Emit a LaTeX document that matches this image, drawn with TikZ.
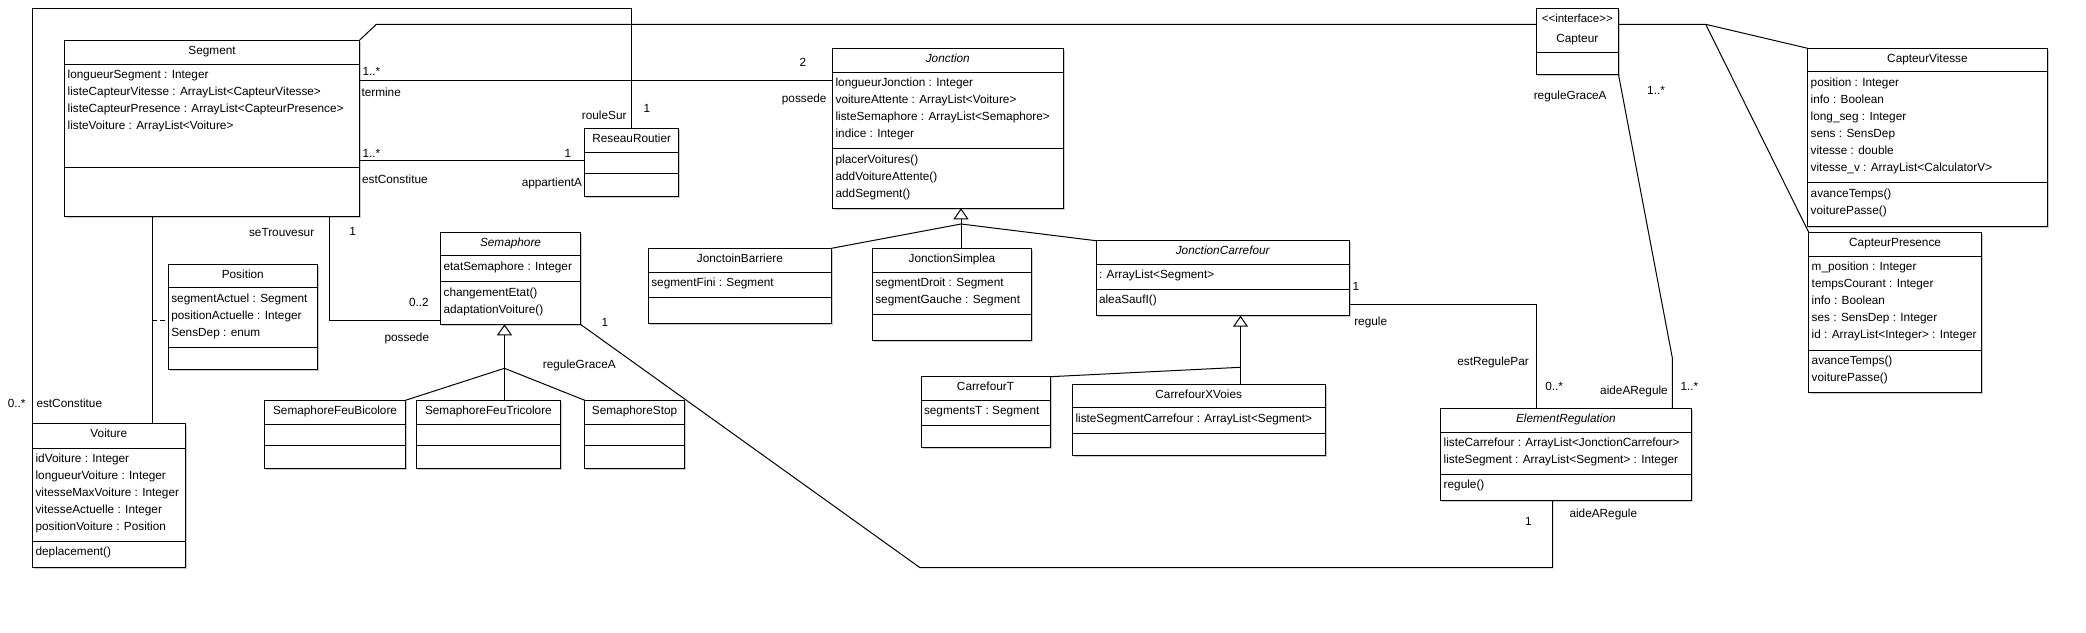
\documentclass[tikz,border=0pt]{standalone}
\usepackage{fontspec}
\setmainfont{Liberation Sans}
\usetikzlibrary{arrows.meta,shadows}

\newcommand{\umlfont}{\fontsize{11.8}{17}\selectfont}
\newcommand{\stereofont}{\fontsize{11.5}{13}\selectfont}

% class box: name, x, y, width, height, separators, title
\newcommand{\umlclass}[8]{%
  \node[classbox,minimum width=#4pt,minimum height=#5pt] (#1) at (#2,#3) {};
  \draw ([yshift=-#6pt]#1.north west) -- ([yshift=-#6pt]#1.north east);
  \draw ([yshift=-#7pt]#1.north west) -- ([yshift=-#7pt]#1.north east);
  \node[classtitle] (#1-title) at ([yshift=-14pt]#1.north) {#8};
}
% members under a separator: class, part, separator, list
\newcommand{\umlmembers}[4]{%
  \foreach \m [count=\i] in {#4}
    \node[member] (#1-#2-\i) at ([xshift=2.5pt,yshift={-(#3+17*\i-2.5)*1pt}]#1.north west) {\m};
}

\begin{document}
\begin{tikzpicture}[x=1pt,y=-1pt,line width=1pt]

  \tikzstyle{classbox}=[draw,rectangle,fill=white,inner sep=0pt,outer sep=0pt,anchor=north west,drop shadow={shadow xshift=1.5pt,shadow yshift=-1.5pt,opacity=0.5,fill=black!40}]
  \tikzstyle{classtitle}=[anchor=base,inner sep=0pt,font=\umlfont]
  \tikzstyle{member}=[anchor=base west,inner sep=0pt,font=\umlfont]
  \tikzstyle{assoc}=[draw,line width=1pt]
  \tikzstyle{generalise}=[draw,-{Triangle[open,length=11pt,width=15pt]}]
  \tikzstyle{lab}=[inner sep=0pt,font=\umlfont]

  \useasboundingbox (0,0) rectangle (2086,632);

  % classes
  \umlclass{Segment}{64.7}{40.3}{294.7}{175.7}{24}{127}{Segment}
  \umlmembers{Segment}{attr}{24}{longueurSegment : Integer, listeCapteurVitesse : ArrayList<CapteurVitesse>, listeCapteurPresence : ArrayList<CapteurPresence>, listeVoiture : ArrayList<Voiture>}

  \umlclass{ReseauRoutier}{584.8}{128.3}{93.8}{67.7}{24.4}{45}{ReseauRoutier}

  \umlclass{Jonction}{832.6}{48.3}{230.4}{160}{24}{100.4}{\itshape Jonction}
  \umlmembers{Jonction}{attr}{24}{longueurJonction : Integer, voitureAttente : ArrayList<Voiture>, listeSemaphore : ArrayList<Semaphore>, indice : Integer}
  \umlmembers{Jonction}{op}{100.4}{placerVoitures(), addVoitureAttente(), addSegment()}

  \node[classbox,minimum width=82.2pt,minimum height=65.7pt] (Capteur) at (1536.2,8.3) {};
  \draw ([yshift=-44pt]Capteur.north west) -- ([yshift=-44pt]Capteur.north east);
  \node[classtitle,font=\stereofont] (Capteur-stereo) at ([yshift=-14pt]Capteur.north) {<\kern0pt<interface>\kern0pt>};
  \node[classtitle] (Capteur-title) at ([yshift=-33.7pt]Capteur.north) {Capteur};

  \umlclass{CapteurVitesse}{1807.7}{48.3}{239.5}{177.7}{23.4}{134.4}{CapteurVitesse}
  \umlmembers{CapteurVitesse}{attr}{23.4}{position : Integer, info : Boolean, long\_seg : Integer, sens : SensDep, vitesse : double, vitesse\_v : ArrayList<CalculatorV>}
  \umlmembers{CapteurVitesse}{op}{134.4}{avanceTemps(), voiturePasse()}

  \umlclass{CapteurPresence}{1808.7}{232.3}{172.8}{160}{23.7}{117.7}{CapteurPresence}
  \umlmembers{CapteurPresence}{attr}{23.7}{m\_position : Integer, tempsCourant : Integer, info : Boolean, ses : SensDep : Integer, id : ArrayList<Integer> : Integer}
  \umlmembers{CapteurPresence}{op}{117.7}{avanceTemps(), voiturePasse()}

  \umlclass{Position}{168.3}{264.3}{149}{104.7}{23.4}{83.4}{Position}
  \umlmembers{Position}{attr}{23.4}{segmentActuel : Segment, positionActuelle : Integer, SensDep : enum}

  \umlclass{Semaphore}{440.6}{232.3}{139.8}{92}{23.4}{49.4}{\itshape Semaphore}
  \umlmembers{Semaphore}{attr}{23.4}{etatSemaphore : Integer}
  \umlmembers{Semaphore}{op}{49.4}{changementEtat(), adaptationVoiture()}

  \umlclass{Voiture}{32.6}{423.8}{152.5}{143.5}{24.5}{117.5}{Voiture}
  \umlmembers{Voiture}{attr}{24.5}{idVoiture : Integer, longueurVoiture : Integer, vitesseMaxVoiture : Integer, vitesseActuelle : Integer, positionVoiture : Position}
  \umlmembers{Voiture}{op}{117.5}{deplacement()}

  \umlclass{SemBicolore}{264.7}{400.3}{140.7}{68}{24}{45.4}{SemaphoreFeuBicolore}
  \umlclass{SemTricolore}{416.5}{400.3}{143.8}{68}{24}{45.4}{SemaphoreFeuTricolore}
  \umlclass{SemStop}{584.8}{400.3}{99.6}{68}{24}{45.4}{SemaphoreStop}

  \umlclass{JBarriere}{648.3}{248.3}{183.2}{75}{24}{49}{JonctoinBarriere}
  \umlmembers{JBarriere}{attr}{24}{segmentFini : Segment}

  \umlclass{JSimplea}{872.3}{248.3}{159.3}{91.7}{24}{66}{JonctionSimplea}
  \umlmembers{JSimplea}{attr}{24}{segmentDroit : Segment, segmentGauche : Segment}

  \umlclass{JCarrefour}{1096}{240.7}{253.4}{75}{23.3}{48.6}{\itshape JonctionCarrefour}
  \umlmembers{JCarrefour}{attr}{23.3}{: ArrayList<Segment>}
  \umlmembers{JCarrefour}{op}{48.6}{aleaSaufI()}

  \umlclass{CarrefourT}{921}{376.7}{129}{70.6}{23.3}{49}{CarrefourT}
  \umlmembers{CarrefourT}{attr}{23.3}{segmentsT : Segment}

  \umlclass{CarrefourXVoies}{1072.5}{384}{252.5}{71.7}{23.7}{49.3}{CarrefourXVoies}
  \umlmembers{CarrefourXVoies}{attr}{23.7}{listeSegmentCarrefour : ArrayList<Segment>}

  \umlclass{ElementRegulation}{1440.7}{408.3}{250.3}{91.7}{24}{66}{\itshape ElementRegulation}
  \umlmembers{ElementRegulation}{attr}{24}{listeCarrefour : ArrayList<JonctionCarrefour>, listeSegment : ArrayList<Segment> : Integer}
  \umlmembers{ElementRegulation}{op}{66}{regule()}

  % junctions
  \coordinate (semJoin) at (504.5,368.3);
  \coordinate (jonJoin) at (961,224);
  \coordinate (carJoin) at (1240.5,367.3);
  \coordinate (capJoin) at (1705.7,24.3);
  \coordinate (regBend) at (920,567.7);
  \coordinate (posJoin) at ([yshift=-55.7pt]Position.north west);

  % associations
  \draw[assoc] (Voiture.north west) |- ([yshift=120pt]ReseauRoutier.north) -- (ReseauRoutier.north);
  \draw[assoc] (Segment.north east) -- ++(17,-16) -- ([yshift=-16pt]Capteur.north west);
  \draw[assoc] ([yshift=-39.7pt]Segment.north east) -- ([yshift=-31.7pt]Jonction.north west);
  \draw[assoc] ([yshift=-120pt]Segment.north east) -- ([yshift=-32pt]ReseauRoutier.north west);
  \draw[assoc] ([xshift=87.6pt]Segment.south west) coordinate (segVoit) -- ([xshift=119.7pt]Voiture.north west);
  \draw[assoc,dash pattern=on 5pt off 3pt] (posJoin -| segVoit) -- (posJoin);
  \draw[assoc] ([xshift=264.6pt]Segment.south west) |- ([yshift=4.3pt]Semaphore.south west);
  \draw[assoc] ([yshift=-63.6pt]JCarrefour.north east) -| ([xshift=96pt]ElementRegulation.north west);
  \draw[assoc] (Capteur.south east) -- ++(54,284.3) -- ([xshift=231.6pt]ElementRegulation.north west);
  \draw[assoc] (Semaphore.south east) -- (regBend) -| ([xshift=112pt]ElementRegulation.south west);
  \draw[assoc] ([yshift=-16pt]Capteur.north east) -- (capJoin) -- (CapteurVitesse.north west);
  \draw[assoc] (capJoin) -- (CapteurPresence.north west);

  % generalisations
  \draw[assoc] (SemBicolore.north east) -- (semJoin) -- (SemStop.north west);
  \draw[generalise] (semJoin |- SemTricolore.north) -- ([xshift=-6pt]Semaphore.south);
  \draw[assoc] (JBarriere.north east) -- (jonJoin) -- (JCarrefour.north west);
  \draw[generalise] (jonJoin |- JSimplea.north) -- ([xshift=13.2pt]Jonction.south);
  \draw[assoc] (CarrefourT.north east) -- (carJoin);
  \draw[generalise] (carJoin |- CarrefourXVoies.north) -- ([xshift=17.8pt]JCarrefour.south);

  % roles and multiplicities
  \node[lab,anchor=base west] (mTermine) at (362,75.3) {1..*};
  \node[lab,anchor=base west] (rTermine) at (361,96) {termine};
  \node[lab,anchor=base] (mPossede) at (803,66.6) {2};
  \node[lab,anchor=base east] (rPossede) at (827,102.6) {possede};
  \node[lab,anchor=base east] (rRouleSur) at (627,119.3) {rouleSur};
  \node[lab,anchor=base] (mRouleSur) at (647,112.3) {1};
  \node[lab,anchor=base west] (mEstConstitue) at (362,157.3) {1..*};
  \node[lab,anchor=base] (mAppartient) at (568,157.3) {1};
  \node[lab,anchor=base west] (rEstConstitue) at (361.6,183.3) {estConstitue};
  \node[lab,anchor=base east] (rAppartient) at (582.6,186) {appartientA};
  \node[lab,anchor=base east] (rSeTrouve) at (314.7,236.3) {seTrouvesur};
  \node[lab,anchor=base] (mSeTrouve) at (352.7,235.3) {1};
  \node[lab,anchor=base west] (mSemPossede) at (408.5,306) {0..2};
  \node[lab,anchor=base west] (rSemPossede) at (384,341.3) {possede};
  \node[lab,anchor=base] (mSemRegule) at (605,326) {1};
  \node[lab,anchor=base west] (rSemRegule) at (542.4,368.3) {reguleGraceA};
  \node[lab,anchor=base west] (mVoiture) at (7.3,407.6) {0..*};
  \node[lab,anchor=base west] (rVoiture) at (36,407.6) {estConstitue};
  \node[lab,anchor=base] (mRegule) at (1356,290) {1};
  \node[lab,anchor=base west] (rRegule) at (1353.8,325) {regule};
  \node[lab,anchor=base east] (rRegulePar) at (1529.3,365) {estRegulePar};
  \node[lab,anchor=base west] (mRegulePar) at (1544.8,390) {0..*};
  \node[lab,anchor=base east] (rAideCapteur) at (1668.3,394.3) {aideARegule};
  \node[lab,anchor=base west] (mAideCapteur) at (1680,390) {1..*};
  \node[lab,anchor=base west] (rCapteurRegule) at (1533.3,99.3) {reguleGraceA};
  \node[lab,anchor=base west] (mCapteurRegule) at (1646.7,94.3) {1..*};
  \node[lab,anchor=base] (mAideSem) at (1528.3,525.3) {1};
  \node[lab,anchor=base west] (rAideSem) at (1569,517.6) {aideARegule};

\end{tikzpicture}
\end{document}
